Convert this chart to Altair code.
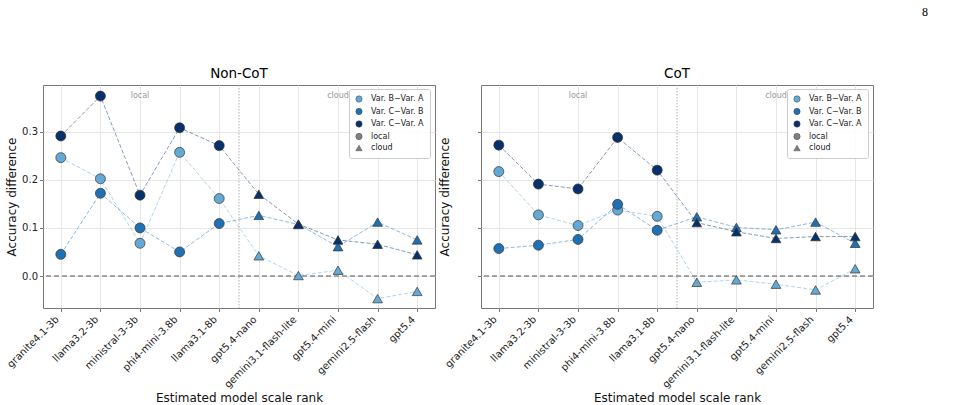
import altair as alt
import pandas as pd

models = ["granite4.1-3b", "llama3.2-3b", "ministral-3-3b", "phi4-mini-3.8b", "llama3.1-8b",
          "gpt5.4-nano", "gemini3.1-flash-lite", "gpt5.4-mini", "gemini2.5-flash", "gpt5.4"]
deploy = ["local"] * 5 + ["cloud"] * 5
series_names = ["Var. B\u2212Var. A", "Var. C\u2212Var. B", "Var. C\u2212Var. A"]
series_colors = ["#64a9d4", "#2070b4", "#08306b"]
legend_keys = series_names + ["local", "cloud"]
legend_colors = series_colors + ["#808080", "#808080"]
legend_shapes = ["circle", "circle", "circle", "circle", "triangle-up"]

noncot_b_a = [0.246, 0.202, 0.068, 0.257, 0.161, 0.042, 0.001, 0.012, -0.047, -0.032]
noncot_c_b = [0.045, 0.172, 0.100, 0.050, 0.109, 0.126, 0.107, 0.061, 0.112, 0.075]
noncot_c_a = [0.291, 0.374, 0.168, 0.308, 0.271, 0.170, 0.108, 0.075, 0.066, 0.044]

cot_b_a = [0.217, 0.127, 0.105, 0.137, 0.124, -0.013, -0.008, -0.017, -0.029, 0.015]
cot_c_b = [0.057, 0.064, 0.076, 0.149, 0.095, 0.123, 0.101, 0.096, 0.112, 0.068]
cot_c_a = [0.272, 0.191, 0.181, 0.288, 0.220, 0.111, 0.092, 0.078, 0.082, 0.082]

region_labels = ["local", "cloud"]
region_centers = [2, 7]
region_label_y = [0.375, 0.375]
zero_line = [0.0]
split_line = [4.5]

FONT = "DejaVu Sans"
label_expr = "[" + ",".join("'%s'" % m for m in models) + "][datum.value]"


def build_frame(vals):
    rows = []
    for s, arr in zip(series_names, vals):
        for i, (m, d, v) in enumerate(zip(models, deploy, arr)):
            rows.append({"idx": i, "model": m, "deploy": d, "series": s, "value": v})
    return pd.DataFrame(rows)


def make_legend(lx, ly):
    return alt.Legend(title=None, orient="none", legendX=lx, legendY=ly,
                      labelFontSize=8, labelFont=FONT, symbolSize=40,
                      rowPadding=2.5, padding=6, labelOffset=8,
                      fillColor="rgba(255,255,255,0.85)",
                      strokeColor="#cccccc", cornerRadius=2,
                      labelColor="#222", symbolStrokeWidth=0.5)


def panel(vals, title, show_labels, lx, ly, suffix):
    df = build_frame(vals)
    keys = [k + suffix for k in legend_keys]
    x = alt.X("idx:Q",
              scale=alt.Scale(domain=[-0.45, 9.45], nice=False, zero=False),
              axis=alt.Axis(values=list(range(10)), labelExpr=label_expr, labelAngle=-45,
                            labelAlign="right", labelBaseline="middle", labelFontSize=10,
                            labelFont=FONT, titleFont=FONT, labelOffset=-4,
                            labelOverlap=False, title="Estimated model scale rank",
                            titleFontSize=12, titleFontWeight="normal", titlePadding=3,
                            grid=True, gridColor="#e6e6e6", tickColor="#777", tickSize=3.5,
                            domain=False, labelPadding=6, labelLimit=200,
                            labelColor="#222", titleColor="#111"))
    yaxis_kw = dict(values=[0, 0.1, 0.2, 0.3], format=".1f", labels=show_labels,
                    labelFontSize=10, title="Accuracy difference", titleFontSize=12,
                    labelFont=FONT, titleFont=FONT, titleFontWeight="normal",
                    grid=True, gridColor="#e6e6e6", tickColor="#777", tickSize=3.5,
                    domain=False, labelColor="#222", titleColor="#111")
    if show_labels:
        yaxis_kw["titlePadding"] = 3
    else:
        yaxis_kw["titleX"] = -30
        yaxis_kw["titleY"] = 111.5
    y = alt.Y("value:Q",
              scale=alt.Scale(domain=[-0.0665, 0.397], nice=False, zero=False),
              axis=alt.Axis(**yaxis_kw))
    base = alt.Chart(df)
    lines = base.mark_line(strokeDash=[4, 2], strokeWidth=0.9, opacity=0.55).encode(
        x=x, y=y,
        stroke=alt.Stroke("series:N", scale=alt.Scale(domain=series_names, range=series_colors),
                          legend=None),
        detail="series:N")
    fill_enc = alt.Fill("series:N", scale=alt.Scale(domain=series_names, range=series_colors),
                        legend=None)
    pts_local = base.transform_filter(alt.datum.deploy == "local").mark_point(
        filled=True, shape="circle", size=100, stroke="#333", strokeWidth=0.7, opacity=1
    ).encode(x=x, y=y, fill=fill_enc)
    pts_cloud = base.transform_filter(alt.datum.deploy == "cloud").mark_point(
        filled=True, shape="triangle-up", size=95, stroke="#333", strokeWidth=0.7, opacity=1
    ).encode(x=x, y=y, fill=fill_enc)
    legend_layer = base.transform_filter("false").mark_point(
        filled=True, size=40, stroke="#444", strokeWidth=0.5, opacity=1
    ).encode(
        x=x, y=y,
        color=alt.Color("series:N", scale=alt.Scale(domain=keys, range=legend_colors),
                        legend=make_legend(lx, ly)),
        shape=alt.Shape("series:N", scale=alt.Scale(domain=keys, range=legend_shapes),
                        legend=make_legend(lx, ly)))
    zero = alt.Chart(pd.DataFrame({"value": zero_line})).mark_rule(
        color="#555", strokeDash=[5, 3], strokeWidth=1.1).encode(y=alt.Y("value:Q"))
    split = alt.Chart(pd.DataFrame({"idx": split_line})).mark_rule(
        color="#aaa", strokeDash=[1.5, 1.5], strokeWidth=0.9).encode(x=alt.X("idx:Q"))
    texts = alt.Chart(pd.DataFrame({"idx": region_centers, "value": region_label_y,
                                    "label": region_labels})).mark_text(
        fontSize=8, color="#999", font=FONT).encode(x=alt.X("idx:Q"), y=alt.Y("value:Q"),
                                                    text="label:N")
    return alt.layer(split, zero, lines, pts_local, pts_cloud, texts, legend_layer).properties(
        width=392, height=223,
        title=alt.TitleParams(title, fontSize=13.5, font=FONT, fontWeight="normal", offset=4))


left = panel([noncot_b_a, noncot_c_b, noncot_c_a], "Non-CoT", True, 306, 4, "")
right = panel([cot_b_a, cot_c_b, cot_c_a], "CoT", False, 306, 4, " ")

chart = alt.hconcat(left, right, spacing=46, bounds="flush").resolve_scale(
    color="independent", shape="independent"
).resolve_legend(
    color="independent", shape="independent"
).properties(
    title=alt.TitleParams("8", anchor="end", font="Liberation Serif", fontSize=12,
                          fontWeight="normal", dx=54, offset=48),
    padding={"left": 4, "top": 5, "right": 5, "bottom": 5},
    background="white",
).configure_view(stroke="#777", strokeWidth=1).configure_axis(
    labelFont=FONT, titleFont=FONT, labelColor="#222", titleColor="#111"
).configure_title(fontWeight="normal")

chart.save("out.html", embed_options={"renderer": "svg", "actions": False})
